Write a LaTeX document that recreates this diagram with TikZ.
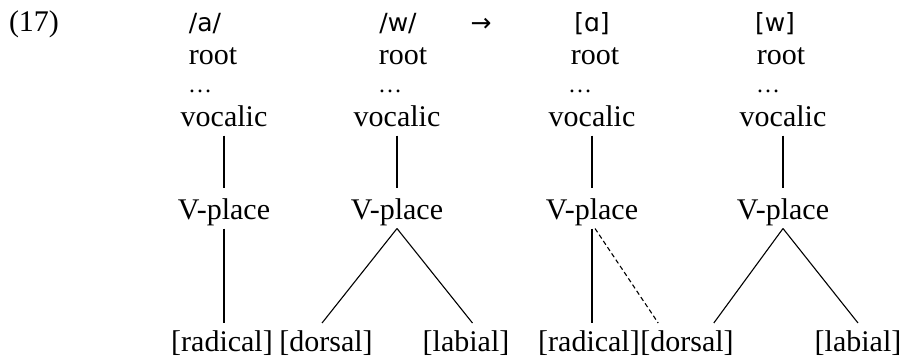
\documentclass[tikz,border=0pt]{standalone}
\usepackage{fontspec}
\setmainfont{Liberation Serif}
\newfontfamily\ipafont{DejaVu Sans}
\usepackage{tikz}
\usetikzlibrary{calc}

\begin{document}
\begin{tikzpicture}[x=1pt,y=-1pt,
    lab/.style={anchor=base,inner xsep=0pt,inner ysep=0pt,outer sep=3pt,text height=21pt,text depth=6.5pt,font=\fontsize{30}{34}\selectfont},
    seg/.style={lab,font=\fontsize{25}{30}\selectfont\ipafont},
    dots/.style={lab,text height=4pt,text depth=0pt,font=\fontsize{24}{26}\selectfont},
    vpl/.style={lab,text height=28pt},
    feat/.style={lab,text height=25pt},
    br/.style={line width=1.1pt},
    brdash/.style={br,dash pattern=on 4.5pt off 3pt}]
    \useasboundingbox (0,0) rectangle (907,360);
    \node[lab] (ex) at (34,31) {(17)};
    % /a/
    \node[seg] (a-seg) at (205,31) {/a/};
    \node[lab] (a-root) at (213,64) {root};
    \node[dots] (a-dots) at (200,92) {\dots};
    \node[lab] (a-voc) at (224,126) {vocalic};
    \node[vpl] (a-vpl) at (224,219) {V-place};
    \node[feat] (a-rad) at (222,351) {[radical]};
    % /w/
    \node[seg] (w-seg) at (398,31) {/w/};
    \node[lab] (w-root) at (403,64) {root};
    \node[dots] (w-dots) at (390,92) {\dots};
    \node[lab] (w-voc) at (397,126) {vocalic};
    \node[vpl] (w-vpl) at (397,219) {V-place};
    \node[feat] (w-dor) at (326,351) {[dorsal]};
    \node[feat] (w-lab) at (466,351) {[labial]};
    \node[seg] (arr) at (481,31) {→};
    % [ɑ]
    \node[seg] (c-seg) at (592,31) {[ɑ]};
    \node[lab] (c-root) at (595,64) {root};
    \node[dots] (c-dots) at (580,92) {\dots};
    \node[lab] (c-voc) at (592,126) {vocalic};
    \node[vpl] (c-vpl) at (592,219) {V-place};
    \node[feat] (c-rad) at (589,351) {[radical]};
    \node[feat] (c-dor) at (687,351) {[dorsal]};
    % [w]
    \node[seg] (d-seg) at (775,31) {[w]};
    \node[lab] (d-root) at (781,64) {root};
    \node[dots] (d-dots) at (768,92) {\dots};
    \node[lab] (d-voc) at (783,126) {vocalic};
    \node[vpl] (d-vpl) at (783,219) {V-place};
    \node[feat] (d-lab) at (858,351) {[labial]};
    % branches
    \draw[br] (a-voc.south)--(a-vpl.north); \draw[br] (a-vpl.south)--(a-vpl.south |- a-rad.north);
    \draw[br] (w-voc.south)--(w-vpl.north);
    \draw[br] (w-vpl.south)--($(w-dor.north west)!0.46!(w-dor.north east)$);
    \draw[br] (w-vpl.south)--($(w-lab.north west)!0.57!(w-lab.north east)$);
    \draw[br] (c-voc.south)--(c-vpl.north); \draw[br] (c-vpl.south)--(c-vpl.south |- c-rad.north);
    \draw[brdash] ($(c-vpl.south)+(3,0)$)--($(c-dor.north west)!0.21!(c-dor.north east)$);
    \draw[br] (d-voc.south)--(d-vpl.north);
    \draw[br] (d-vpl.south)--($(c-dor.north west)!0.77!(c-dor.north east)$);
    \draw[br] (d-vpl.south)--(d-lab.north);
\end{tikzpicture}
\end{document}
